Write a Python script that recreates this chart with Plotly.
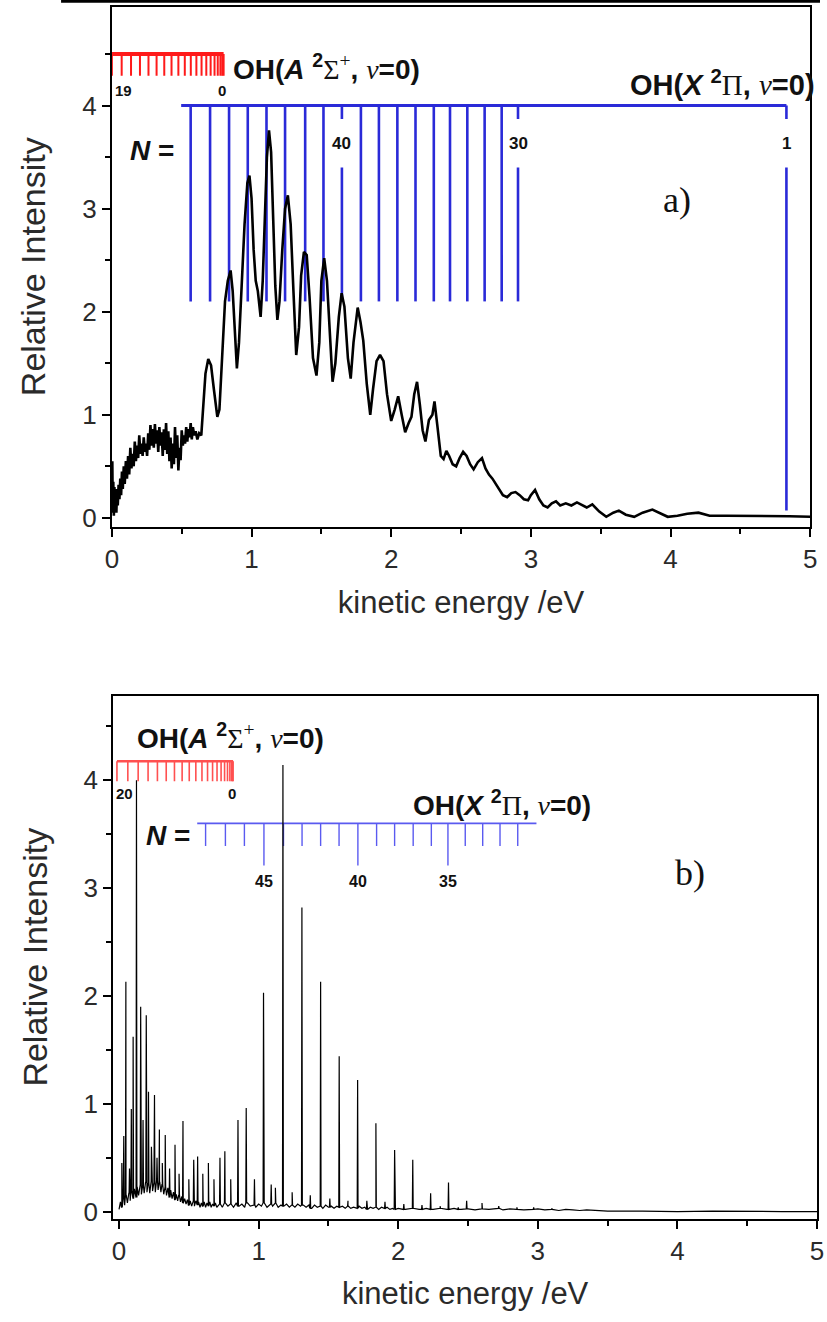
import plotly.graph_objects as go
import numpy as np

W, H = 827, 1322

# ---------------- Panel a: spectrum (kinetic energy /eV, relative intensity) -------------
a_x = [0.000, 0.003, 0.006, 0.010, 0.014, 0.018, 0.022, 0.027, 0.032, 0.037, 0.042, 0.048, 0.054,
       0.060, 0.066, 0.072, 0.078, 0.085, 0.092, 0.100, 0.108, 0.116, 0.124, 0.132, 0.140, 0.148,
       0.156, 0.164, 0.172, 0.180, 0.188, 0.196, 0.204, 0.212, 0.220, 0.228, 0.236, 0.244, 0.252,
       0.260, 0.268, 0.276, 0.284, 0.292, 0.300, 0.308, 0.316, 0.324, 0.332, 0.340, 0.348, 0.356,
       0.364, 0.372, 0.380, 0.388, 0.396, 0.404, 0.412, 0.420, 0.428, 0.436, 0.444, 0.452, 0.460,
       0.468, 0.476, 0.484, 0.492, 0.500, 0.508, 0.516, 0.524, 0.532, 0.540, 0.548, 0.556, 0.564,
       0.572, 0.580, 0.590, 0.600, 0.612, 0.625, 0.640, 0.655, 0.670, 0.690, 0.710, 0.730, 0.755,
       0.770, 0.790, 0.810, 0.830, 0.850, 0.865, 0.880, 0.895, 0.910, 0.930, 0.950, 0.970, 0.985,
       1.000, 1.015, 1.030, 1.045, 1.065, 1.080, 1.095, 1.110, 1.125, 1.140, 1.155, 1.170, 1.185,
       1.200, 1.220, 1.240, 1.260, 1.280, 1.300, 1.320, 1.340, 1.355, 1.375, 1.395, 1.415, 1.440,
       1.465, 1.485, 1.500, 1.520, 1.540, 1.560, 1.580, 1.600, 1.625, 1.645, 1.665, 1.690, 1.710,
       1.730, 1.760, 1.780, 1.800, 1.825, 1.850, 1.870, 1.895, 1.920, 1.945, 1.970, 2.000, 2.025,
       2.050, 2.075, 2.100, 2.125, 2.145, 2.165, 2.185, 2.205, 2.225, 2.245, 2.270, 2.295, 2.310,
       2.330, 2.355, 2.375, 2.395, 2.415, 2.440, 2.465, 2.490, 2.515, 2.540, 2.565, 2.590, 2.620,
       2.650, 2.675, 2.700, 2.725, 2.760, 2.800, 2.830, 2.860, 2.890, 2.920, 2.950, 2.980, 3.000,
       3.030, 3.060, 3.090, 3.120, 3.150, 3.180, 3.210, 3.250, 3.290, 3.330, 3.370, 3.400, 3.440,
       3.490, 3.540, 3.590, 3.630, 3.680, 3.740, 3.800, 3.870, 3.930, 3.980, 4.050, 4.120, 4.200,
       4.280, 4.400, 4.550, 4.700, 4.850, 5.000]
a_y = [0.05, 0.55, 0.10, 0.35, 0.02, 0.30, 0.08, 0.25, 0.05, 0.28, 0.12, 0.32, 0.18,
       0.38, 0.22, 0.45, 0.28, 0.50, 0.33, 0.55, 0.38, 0.60, 0.42, 0.68, 0.48, 0.62,
       0.50, 0.74, 0.55, 0.70, 0.58, 0.80, 0.62, 0.72, 0.60, 0.78, 0.64, 0.72, 0.60,
       0.82, 0.66, 0.90, 0.70, 0.86, 0.68, 0.91, 0.72, 0.85, 0.64, 0.88, 0.70, 0.83,
       0.60, 0.86, 0.66, 0.92, 0.62, 0.84, 0.55, 0.78, 0.48, 0.72, 0.52, 0.88, 0.58,
       0.80, 0.46, 0.68, 0.56, 0.85, 0.70, 0.80, 0.72, 0.88, 0.74, 0.86, 0.78, 0.92,
       0.76, 0.88, 0.80, 0.84, 0.76, 0.82, 0.80, 1.10, 1.40, 1.54, 1.48, 1.25, 0.98,
       1.05, 1.60, 2.10, 2.30, 2.40, 2.20, 1.75, 1.45, 1.70, 2.30, 2.85, 3.25, 3.32,
       3.10, 2.60, 2.30, 2.20, 1.95, 2.30, 2.90, 3.50, 3.76, 3.55, 2.90, 2.25, 1.92,
       2.10, 2.60, 3.00, 3.13, 2.85, 2.20, 1.58, 1.85, 2.35, 2.58, 2.55, 2.15, 1.55,
       1.38, 1.70, 2.30, 2.52, 2.30, 1.75, 1.32, 1.50, 1.95, 2.18, 2.05, 1.55, 1.35,
       1.70, 2.04, 1.90, 1.72, 1.30, 1.00, 1.25, 1.52, 1.58, 1.52, 1.20, 0.94, 1.05,
       1.18, 1.00, 0.83, 0.92, 0.98, 1.20, 1.32, 1.10, 0.85, 0.74, 0.95, 1.00, 1.13,
       0.90, 0.60, 0.57, 0.65, 0.60, 0.52, 0.50, 0.58, 0.64, 0.60, 0.52, 0.47, 0.54,
       0.58, 0.48, 0.42, 0.38, 0.30, 0.22, 0.20, 0.24, 0.25, 0.22, 0.18, 0.17, 0.22,
       0.27, 0.18, 0.12, 0.10, 0.14, 0.16, 0.12, 0.14, 0.12, 0.15, 0.12, 0.10, 0.13,
       0.06, 0.01, 0.05, 0.07, 0.03, 0.01, 0.05, 0.08, 0.04, 0.01, 0.02, 0.04, 0.05,
       0.02, 0.02, 0.02, 0.015, 0.015, 0.01]

# Panel a: OH(X 2Pi, v=0) rotational comb (N = 48 ... 30, and N = 1)
a_X_pos = [0.564, 0.703, 0.839, 0.973, 1.107, 1.240, 1.384, 1.515, 1.647, 1.783, 1.912,
           2.044, 2.174, 2.305, 2.421, 2.545, 2.669, 2.791, 2.908, 4.830]
a_X_N = [48, 47, 46, 45, 44, 43, 42, 41, 40, 39, 38, 37, 36, 35, 34, 33, 32, 31, 30, 1]
a_X_labelled = [40, 30, 1]

# Panel a: OH(A 2Sigma+, v=0) rotational comb (N = 19 ... 0)
a_A_pos = [0.000, 0.070, 0.137, 0.201, 0.262, 0.320, 0.375, 0.427, 0.476, 0.522,
           0.565, 0.605, 0.642, 0.676, 0.707, 0.735, 0.758, 0.777, 0.790, 0.800]
a_A_N = [19, 18, 17, 16, 15, 14, 13, 12, 11, 10, 9, 8, 7, 6, 5, 4, 3, 2, 1, 0]

# ---------------- Panel b: spectrum = baseline + sharp peaks -------------
b_base_y1 = [0.02, 0.09, 0.04, 0.13, 0.06, 0.15, 0.08, 0.17, 0.10, 0.19, 0.12, 0.21, 0.13, 0.23,
             0.15, 0.25, 0.16, 0.24, 0.17, 0.27, 0.18, 0.26, 0.17, 0.28, 0.19, 0.27, 0.18, 0.29,
             0.20, 0.27, 0.18, 0.25, 0.16, 0.23, 0.15, 0.22, 0.13, 0.20, 0.12, 0.18, 0.11, 0.16,
             0.10, 0.15, 0.09, 0.14, 0.08, 0.12, 0.07, 0.11, 0.06, 0.10, 0.05, 0.09, 0.05, 0.10,
             0.06, 0.09, 0.04, 0.08, 0.05, 0.09, 0.04, 0.08, 0.05, 0.09, 0.04, 0.07, 0.05, 0.08,
             0.04]                                   # 0.00 .. 0.70
b_base_y2 = [0.07, 0.04, 0.08, 0.05, 0.07, 0.04, 0.08, 0.05, 0.07, 0.04, 0.08, 0.05, 0.06,
             0.04, 0.07, 0.05, 0.08, 0.04, 0.07, 0.05, 0.08, 0.04, 0.06, 0.05, 0.07, 0.04,
             0.06, 0.04, 0.07, 0.05, 0.06, 0.04, 0.06, 0.03, 0.06, 0.04, 0.05, 0.03, 0.06,
             0.04, 0.05, 0.03, 0.05, 0.04, 0.05, 0.03, 0.05, 0.03, 0.04, 0.03, 0.05, 0.03,
             0.04, 0.02, 0.04, 0.03, 0.04, 0.02, 0.04, 0.03, 0.04, 0.02, 0.03, 0.02, 0.03]  # 0.72 .. 2.00
b_base_y3 = [0.02, 0.03, 0.02, 0.03, 0.02, 0.03, 0.02, 0.03, 0.02, 0.025, 0.015, 0.025, 0.02,
             0.03, 0.015, 0.025, 0.02, 0.015, 0.02, 0.025, 0.015, 0.02, 0.01, 0.02, 0.015,
             0.01, 0.015, 0.01, 0.01, 0.005]          # 2.05 .. 3.50
b_base_y4 = [0.005, 0.0, 0.005, 0.0, 0.0, 0.0]        # 3.75 .. 5.00

b_peak_x = [0.020, 0.034, 0.049, 0.075, 0.088, 0.101, 0.125, 0.155, 0.172, 0.195,
            0.211, 0.232, 0.254, 0.272, 0.289, 0.310, 0.331, 0.362, 0.401, 0.430,
            0.458, 0.500, 0.535, 0.563, 0.600, 0.640, 0.680, 0.723, 0.758, 0.800,
            0.852, 0.911, 0.970, 1.035, 1.090, 1.120, 1.174, 1.240, 1.310, 1.370,
            1.444, 1.510, 1.577, 1.640, 1.709, 1.775, 1.840, 1.905, 1.974, 2.040,
            2.104, 2.170, 2.232, 2.300, 2.360, 2.430, 2.490, 2.600, 2.720, 2.850,
            2.970, 3.100]
b_peak_h = [0.45, 0.70, 2.13, 0.40, 0.95, 1.62, 4.00, 1.90, 0.85, 1.82,
            1.11, 0.60, 1.08, 0.50, 0.76, 0.45, 0.71, 0.40, 0.62, 0.35,
            0.84, 0.30, 0.48, 0.51, 0.35, 0.45, 0.30, 0.50, 0.56, 0.30,
            0.85, 0.96, 0.30, 2.03, 0.25, 0.22, 4.14, 0.18, 2.82, 0.15,
            2.13, 0.12, 1.44, 0.10, 1.22, 0.10, 0.82, 0.09, 0.57, 0.07,
            0.48, 0.06, 0.17, 0.05, 0.27, 0.04, 0.10, 0.08, 0.05, 0.04,
            0.04, 0.03]

# Panel b: OH(X 2Pi, v=0) comb (N = 48 ... 31)
b_X_pos = [0.620, 0.762, 0.898, 1.038, 1.178, 1.311, 1.444, 1.576, 1.711, 1.845,
           1.974, 2.107, 2.237, 2.356, 2.480, 2.605, 2.729, 2.856]
b_X_N = [48, 47, 46, 45, 44, 43, 42, 41, 40, 39, 38, 37, 36, 35, 34, 33, 32, 31]
b_X_labelled = [45, 40, 35]

# Panel b: OH(A 2Sigma+, v=0) comb (N = 20 ... 0)
b_A_pos = [-0.015, 0.063, 0.137, 0.208, 0.275, 0.338, 0.397, 0.452, 0.503, 0.550, 0.594,
           0.634, 0.670, 0.702, 0.731, 0.756, 0.777, 0.794, 0.806, 0.813, 0.817]
b_A_N = [20, 19, 18, 17, 16, 15, 14, 13, 12, 11, 10, 9, 8, 7, 6, 5, 4, 3, 2, 1, 0]

tick_vals = [0, 1, 2, 3, 4, 5]

# ---------------- build helpers -------------
def segs(pairs):
    X, Y = [], []
    for (x0, y0, x1, y1) in pairs:
        X += [x0, x1, None]
        Y += [y0, y1, None]
    return X, Y

# baseline for panel b
b_base_x = list(np.linspace(0.0, 0.70, len(b_base_y1))) + list(np.linspace(0.72, 2.00, len(b_base_y2))) \
    + list(np.linspace(2.05, 3.50, len(b_base_y3))) + list(np.linspace(3.75, 5.00, len(b_base_y4)))
b_base_y = b_base_y1 + b_base_y2 + b_base_y3 + b_base_y4
bbx = np.array(b_base_x)
pts = list(zip(b_base_x, b_base_y))
for px, ph in zip(b_peak_x, b_peak_h):
    i = int(np.argmin(np.abs(bbx - px)))
    foot = b_base_y[i]
    pts += [(px - 0.003, foot), (px, ph), (px + 0.003, foot)]
pts.sort(key=lambda p: p[0])
b_x = [p[0] for p in pts]
b_y = [p[1] for p in pts]

fig = go.Figure()

BLUE_A = "#2a2ad8"
RED_A = "#ff1a1a"
BLUE_B = "#5a5af0"
RED_B = "#ff5050"

# ---- panel a combs ----
A_TOP, A_BOT = 4.50, 4.29
fig.add_trace(go.Scatter(x=[a_A_pos[0], a_A_pos[-1]], y=[A_TOP, A_TOP], mode="lines",
                         line=dict(color=RED_A, width=4), xaxis="x", yaxis="y", hoverinfo="skip"))
X, Y = segs([(p, A_TOP, p, A_BOT) for p in a_A_pos])
fig.add_trace(go.Scatter(x=X, y=Y, mode="lines", line=dict(color=RED_A, width=2),
                         xaxis="x", yaxis="y", hoverinfo="skip"))

X_LVL, X_BOT = 4.0, 2.1
fig.add_trace(go.Scatter(x=[0.496, a_X_pos[-1]], y=[X_LVL, X_LVL], mode="lines",
                         line=dict(color=BLUE_A, width=3), xaxis="x", yaxis="y", hoverinfo="skip"))
pairs = []
for p, n in zip(a_X_pos, a_X_N):
    bot = 0.07 if n == 1 else X_BOT
    if n in a_X_labelled:
        pairs += [(p, X_LVL, p, 3.87), (p, 3.40, p, bot)]
    else:
        pairs += [(p, X_LVL, p, bot)]
X, Y = segs(pairs)
fig.add_trace(go.Scatter(x=X, y=Y, mode="lines", line=dict(color=BLUE_A, width=2.6),
                         xaxis="x", yaxis="y", hoverinfo="skip"))

# ---- panel a spectrum ----
fig.add_trace(go.Scatter(x=a_x, y=a_y, mode="lines", line=dict(color="black", width=2.6),
                         xaxis="x", yaxis="y", hoverinfo="skip"))

# ---- panel b combs ----
B_TOP, B_BOT = 4.175, 3.99
fig.add_trace(go.Scatter(x=[b_A_pos[0], b_A_pos[-1]], y=[B_TOP, B_TOP], mode="lines",
                         line=dict(color=RED_B, width=2.5), xaxis="x2", yaxis="y2", hoverinfo="skip"))
X, Y = segs([(p, B_TOP, p, B_BOT) for p in b_A_pos])
fig.add_trace(go.Scatter(x=X, y=Y, mode="lines", line=dict(color=RED_B, width=1.6),
                         xaxis="x2", yaxis="y2", hoverinfo="skip"))

BX_LVL = 3.60
fig.add_trace(go.Scatter(x=[0.56, 2.99], y=[BX_LVL, BX_LVL], mode="lines",
                         line=dict(color=BLUE_B, width=1.6), xaxis="x2", yaxis="y2", hoverinfo="skip"))
X, Y = segs([(p, BX_LVL, p, 3.21 if n in b_X_labelled else 3.39) for p, n in zip(b_X_pos, b_X_N)])
fig.add_trace(go.Scatter(x=X, y=Y, mode="lines", line=dict(color=BLUE_B, width=1.4),
                         xaxis="x2", yaxis="y2", hoverinfo="skip"))

# ---- panel b spectrum ----
fig.add_trace(go.Scatter(x=b_x, y=b_y, mode="lines", line=dict(color="black", width=1.2),
                         xaxis="x2", yaxis="y2", hoverinfo="skip"))

# ---------------- axes -------------
FONT = "Liberation Sans, Arial, sans-serif"
SERIF = "Liberation Serif, Times New Roman, serif"

def xax(domain, rng, anchor):
    return dict(domain=domain, range=rng, anchor=anchor, tickvals=tick_vals,
                ticktext=[str(t) for t in tick_vals],
                ticks="outside", ticklen=8, tickwidth=2, tickcolor="black",
                minor=dict(tickvals=[0.5, 1.5, 2.5, 3.5, 4.5], ticks="outside", ticklen=5,
                           tickwidth=1.5, tickcolor="black"),
                showline=True, linewidth=2, linecolor="black", mirror=True,
                showgrid=False, zeroline=False,
                tickfont=dict(family=FONT, size=26, color="#2a2a2a"),
                title=dict(text="kinetic energy /eV", font=dict(family=FONT, size=31, color="#2a2a2a"),
                           standoff=18))

def yax(domain, rng, anchor):
    return dict(domain=domain, range=rng, anchor=anchor, tickvals=[0, 1, 2, 3, 4],
                ticks="outside", ticklen=8, tickwidth=2, tickcolor="black",
                minor=dict(tickvals=[0.5, 1.5, 2.5, 3.5, 4.5], ticks="outside", ticklen=5,
                           tickwidth=1.5, tickcolor="black"),
                showline=True, linewidth=2, linecolor="black", mirror=True,
                showgrid=False, zeroline=False,
                tickfont=dict(family=FONT, size=26, color="#2a2a2a"),
                title=dict(text="Relative Intensity", font=dict(family=FONT, size=34, color="#2a2a2a"),
                           standoff=26))

layout = dict(
    width=W, height=H, margin=dict(l=0, r=0, t=0, b=0),
    paper_bgcolor="white", plot_bgcolor="white", showlegend=False,
    xaxis=xax([106.7 / W, 817 / W], [0, 5], "y"),
    yaxis=yax([1 - 530 / H, 1 - 6.7 / H], [-0.087, 4.96], "x"),
    xaxis2=xax([108 / W, 824 / W], [-0.042, 5.0], "y2"),
    yaxis2=yax([1 - 1226 / H, 1 - 700 / H], [-0.065, 4.783], "x2"),
)
fig.update_layout(**layout)

A_LABEL = ("<b>OH(<i>A</i> <sup>2</sup></b><span style='font-family:Liberation Serif'>Σ<sup>+</sup></span>"
           "<b>, </b><i><span style='font-family:Liberation Serif'>v</span></i><b>=0)</b>")
X_LABEL = ("<b>OH(<i>X</i> <sup>2</sup></b><span style='font-family:Liberation Serif'>Π</span>"
           "<b>, </b><i><span style='font-family:Liberation Serif'>v</span></i><b>=0)</b>")

def ann(x, y, text, xref, yref, size, xanchor="center", family=FONT, color="#111", xshift=0):
    return dict(x=x, y=y, xref=xref, yref=yref, text=text, showarrow=False, xanchor=xanchor,
                yanchor="middle", xshift=xshift, font=dict(family=family, size=size, color=color))

anns = [
    ann(0.855, 4.37, A_LABEL, "x", "y", 28, "left"),
    ann(4.99, 4.22, X_LABEL, "x", "y", 29, "right", xshift=8),
    ann(0.46, 3.56, "<b><i>N</i> =</b>", "x", "y", 28, "right"),
    ann(0.005, 4.15, "<b>19</b>", "x", "y", 15, "left"),
    ann(a_A_pos[-1] - 0.01, 4.15, "<b>0</b>", "x", "y", 15),
    ann(4.05, 3.08, "a)", "x", "y", 36, family=SERIF),
    ann(0.113, 4.41, A_LABEL, "x2", "y2", 28, "left"),
    ann(2.09, 3.79, X_LABEL, "x2", "y2", 28, "left"),
    ann(0.52, 3.49, "<b><i>N</i> =</b>", "x2", "y2", 28, "right"),
    ann(-0.035, 3.88, "<b>20</b>", "x2", "y2", 15, "left"),
    ann(b_A_pos[-1] - 0.01, 3.88, "<b>0</b>", "x2", "y2", 15),
    ann(4.09, 3.14, "b)", "x2", "y2", 36, family=SERIF),
]
for p, n in zip(a_X_pos, a_X_N):
    if n in a_X_labelled:
        anns.append(ann(p, 3.63, f"<b>{n}</b>", "x", "y", 17))
for p, n in zip(b_X_pos, b_X_N):
    if n in b_X_labelled:
        anns.append(ann(p, 3.06, f"<b>{n}</b>", "x2", "y2", 16))
fig.update_layout(annotations=anns)

fig.add_shape(type="line", xref="paper", yref="paper", x0=55 / W, x1=1, y0=1 - 1.2 / H, y1=1 - 1.2 / H,
              line=dict(color="black", width=3))

fig.write_html("out.html", config={"displayModeBar": False},
               post_script="document.body.style.margin='0';document.body.style.padding='0';")
